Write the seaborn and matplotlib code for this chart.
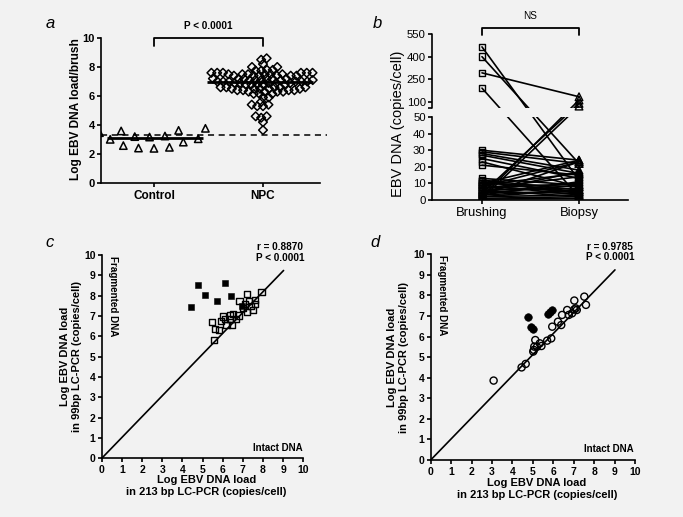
import numpy as np
import pandas as pd
import matplotlib
matplotlib.use("Agg")
import matplotlib.pyplot as plt
import matplotlib.transforms as mtransforms
from matplotlib.patches import Rectangle
import seaborn as sns

# ---------------- data ----------------
groups_a = ["Control", "NPC"]
control_vals = [3.05, 3.77, 2.82, 3.59, 2.46, 3.24, 2.39, 3.17, 2.41, 3.47, 2.58, 3.63, 3.01, 3.2]
npc_vals = ([8.6, 8.5, 8.2, 8.0, 8.0, 7.8, 7.8, 7.75, 7.75]
            + [7.6] * 6 + [7.5] * 6 + [7.4] * 6 + [7.2] * 6 + [7.1] * 5 + [7.0] * 6
            + [6.9] * 5 + [6.8] * 5 + [6.6] * 5 + [6.5] * 5 + [6.4] * 4 + [6.3] * 4
            + [6.15] * 3 + [5.9] * 2 + [5.6] + [5.4] * 2 + [5.3] * 2 + [4.6] * 2
            + [4.5] + [4.2] + [3.65])
cutoff_a = 3.33
p_text_a = "P < 0.0001"

groups_b = ["Brushing", "Biopsy"]
brushing_vals = [465, 400, 293, 192, 30, 29, 28, 27, 25, 23, 21, 13, 11, 2, 4, 1,
                 8, 10, 12, 11, 10, 9, 8, 7, 6, 6, 5, 4, 3, 3, 2, 1, 0.5, 7, 9, 3, 5, 2]
biopsy_vals = [12, 22, 135, 2, 24, 22, 18, 16, 13, 8, 15, 9, 5, 113, 91, 73,
               23, 24, 6, 4, 8, 3, 5, 10, 2, 7, 4, 9, 6, 11, 3, 2, 1, 14, 16, 23, 17, 6]
yticks_b = [0, 10, 20, 30, 40, 50, 100, 250, 400, 550]
p_text_b = "NS"

c_open_x = [5.47, 5.60, 5.57, 5.82, 5.90, 6.13, 6.19, 6.36, 6.48, 6.53, 6.66, 6.79, 6.83,
            6.99, 7.19, 7.22, 7.32, 7.39, 7.52, 7.6, 7.6, 7.93, 7.11, 6.36, 6.0]
c_open_y = [6.70, 6.37, 5.83, 6.32, 6.76, 6.86, 6.57, 7.03, 6.56, 7.11, 6.86, 7.03, 7.74,
            7.41, 8.08, 7.21, 7.74, 7.48, 7.28, 7.61, 7.8, 8.2, 7.61, 6.85, 6.98]
c_fill_x = [4.41, 4.78, 5.14, 5.73, 6.13, 6.41, 6.94]
c_fill_y = [7.43, 8.55, 8.04, 7.75, 8.63, 7.98, 7.47]
c_stats = "r = 0.8870\nP < 0.0001"

d_open_x = [3.08, 4.45, 4.65, 5.02, 5.07, 5.12, 5.34, 5.42, 5.70, 5.90, 5.95, 6.23, 6.39,
            6.43, 6.68, 6.76, 6.92, 7.03, 7.03, 7.15, 7.52, 7.6, 5.2, 5.05, 7.1]
d_open_y = [3.86, 4.5, 4.67, 5.27, 5.51, 5.83, 5.67, 5.54, 5.80, 5.91, 6.48, 6.72, 6.56,
            7.05, 7.29, 7.05, 7.13, 7.75, 7.32, 7.29, 7.94, 7.54, 5.5, 5.35, 7.37]
d_fill_x = [4.78, 4.9, 5.02, 5.76, 5.84, 5.92]
d_fill_y = [6.95, 6.45, 6.36, 7.08, 7.17, 7.29]
d_stats = "r = 0.9785\nP < 0.0001"

diag_x = [0, 9.02]
diag_y = [0, 9.24]
ticks_cd = list(range(0, 11))

# ---------------- style ----------------
BG = "#f2f2f2"
sns.set_theme(style="ticks")
plt.rcParams["font.family"] = ["Liberation Sans", "DejaVu Sans"]
plt.rcParams.update({
    "font.weight": "bold",
    "axes.labelweight": "bold",
    "axes.edgecolor": "black",
    "axes.linewidth": 1.2,
    "xtick.color": "black",
    "ytick.color": "black",
    "xtick.major.width": 1.2,
    "ytick.major.width": 1.2,
    "xtick.minor.width": 1.2,
    "ytick.minor.width": 1.2,
    "xtick.major.size": 3,
    "ytick.major.size": 3,
    "xtick.major.pad": 2,
    "ytick.major.pad": 1.5,
    "text.color": "black",
    "axes.labelcolor": "black",
})

fig = plt.figure(figsize=(6.83, 5.17), dpi=100, facecolor=BG)
ax_a = fig.add_axes([0.1479, 0.646, 0.3206, 0.2805])
ax_b = fig.add_axes([0.6325, 0.6132, 0.287, 0.321])
ax_c = fig.add_axes([0.1489, 0.1135, 0.2952, 0.3932])
ax_d = fig.add_axes([0.6306, 0.1103, 0.2991, 0.3979])
for ax in (ax_a, ax_b, ax_c, ax_d):
    ax.set_facecolor(BG)
    ax.spines["top"].set_visible(False)
    ax.spines["right"].set_visible(False)

# ---------------- panel a ----------------
df_a = pd.DataFrame({"group": ["Control"] * len(control_vals) + ["NPC"] * len(npc_vals),
                     "value": control_vals + npc_vals})
# (group, marker, swarm layout size, drawn marker size, horizontal stretch)
swarm_specs = [("Control", "^", 8.5, 5.3, 1.25), ("NPC", "D", 3.3, 4.4, 1.2)]
for grp, mk, layout_size, draw_size, stretch in swarm_specs:
    n_before = len(ax_a.collections)
    sns.swarmplot(data=df_a[df_a.group == grp], x="group", y="value", order=groups_a,
                  marker=mk, size=layout_size, color="black", linewidth=0, ax=ax_a,
                  warn_thresh=1.0)
    ax_a.set_xlim(-0.486, 1.523)
    ax_a.set_ylim(0, 10)
    fig.canvas.draw()
    center = groups_a.index(grp)
    for coll in ax_a.collections[n_before:]:
        if "draw" in coll.__dict__:
            del coll.__dict__["draw"]   # freeze seaborn's computed swarm layout
        offs = np.array(coll.get_offsets())
        if len(offs):
            offs[:, 0] = center + (offs[:, 0] - center) * stretch
            coll.set_offsets(offs)
        coll.set_sizes([draw_size ** 2])
        coll.set_facecolor("none")
        coll.set_edgecolor("black")
        coll.set_linewidth(1.1)

half_w = [(-0.43, 0.45), (-0.51, 0.46)]
for i, vals in enumerate([control_vals, npc_vals]):
    ax_a.hlines(np.median(vals), i + half_w[i][0], i + half_w[i][1], color="black", lw=2.0, zorder=4)
ax_a.axhline(cutoff_a, xmin=0, xmax=1.03, color="black", lw=1.1, ls=(0, (4, 3)), clip_on=False)
ax_a.set_xlim(-0.486, 1.523)
ax_a.set_ylim(0, 10)
ax_a.set_yticks([0, 2, 4, 6, 8, 10])
ax_a.tick_params(axis="y", labelsize=8)
ax_a.tick_params(axis="x", labelsize=8.5)
ax_a.set_xlabel("")
ax_a.set_ylabel("Log EBV DNA load/brush", fontsize=8.6)
ax_a.yaxis.set_label_coords(-0.087, 0.51)
tr_a = mtransforms.blended_transform_factory(ax_a.transData, ax_a.transAxes)
ax_a.plot([0, 0, 1, 1], [0.945, 1.0, 1.0, 0.945], color="black", lw=1.3, transform=tr_a, clip_on=False)
ax_a.text(0.5, 1.083, p_text_a, transform=tr_a, ha="center", va="center", fontsize=7.2, fontweight="bold")

# ---------------- panel b ----------------
n_pairs = len(brushing_vals)
df_b = pd.DataFrame({
    "pair": list(range(n_pairs)) * 2,
    "pos": [0] * n_pairs + [1] * n_pairs,
    "value": brushing_vals + biopsy_vals,
})
sns.lineplot(data=df_b, x="pos", y="value", units="pair", estimator=None, sort=False,
             color="black", lw=1.2, ax=ax_b, legend=False)
sns.scatterplot(data=df_b[df_b.pos == 0], x="pos", y="value", marker="s", s=22, color="black",
                ax=ax_b, zorder=3, legend=False)
sns.scatterplot(data=df_b[df_b.pos == 1], x="pos", y="value", marker="^", s=30, color="black",
                ax=ax_b, zorder=3, legend=False)
for coll in ax_b.collections:
    coll.set_facecolor("none")
    coll.set_edgecolor("black")
    coll.set_linewidth(1.0)


def fwd(v):
    v = np.asarray(v, dtype=float)
    return np.where(v <= 50, v * 1.66, np.where(v <= 60, 83 + (v - 50) * 0.9, 92 + (v - 60) * 0.1513))


def inv(p):
    p = np.asarray(p, dtype=float)
    return np.where(p <= 83, p / 1.66, np.where(p <= 92, 50 + (p - 83) / 0.9, 60 + (p - 92) / 0.1513))


ax_b.set_yscale("function", functions=(fwd, inv))
ax_b.set_ylim(0, 550)
ax_b.set_xlim(-0.515, 1.505)
ax_b.set_yticks(yticks_b)
ax_b.set_yticklabels([str(t) for t in yticks_b])
ax_b.set_yticks([60], minor=True)
ax_b.set_yticklabels([""], minor=True)
ax_b.tick_params(axis="y", which="minor", length=3, width=1.2)
ax_b.set_xticks([0, 1])
ax_b.set_xticklabels(groups_b)
ax_b.tick_params(axis="y", labelsize=8.2)
ax_b.tick_params(axis="x", labelsize=9.4)
for lbl in ax_b.get_xticklabels() + ax_b.get_yticklabels():
    lbl.set_fontweight("normal")
ax_b.spines["left"].set_bounds(0, 50)
tr_by = mtransforms.blended_transform_factory(ax_b.transAxes, ax_b.transData)
ax_b.plot([0, 0], [60, 550], color="black", lw=1.2, transform=tr_by, clip_on=False, zorder=3)
ax_b.add_patch(Rectangle((0.003, 50), 1.0, 10, transform=tr_by, facecolor=BG, edgecolor="none",
                         zorder=2.5, clip_on=False))
ax_b.set_xlabel("")
ax_b.set_ylabel("EBV DNA (copies/cell)", fontsize=10.5, fontweight="normal")
ax_b.yaxis.set_label_coords(-0.138, 0.46)
tr_b = mtransforms.blended_transform_factory(ax_b.transData, ax_b.transAxes)
ax_b.plot([0, 0, 1, 1], [0.994, 1.036, 1.036, 0.994], color="black", lw=1.3, transform=tr_b, clip_on=False)
ax_b.text(0.5, 1.108, p_text_b, transform=tr_b, ha="center", va="center", fontsize=7.2, fontweight="normal")


# ---------------- panels c, d ----------------
def scatter_panel(ax, ox, oy, fx, fy, marker, s_open, s_fill, stats, stats_xy, frag_xy, intact_xy):
    ax.plot(diag_x, diag_y, color="black", lw=1.2, zorder=2)
    sns.scatterplot(x=ox, y=oy, marker=marker, s=s_open, color="black", ax=ax, zorder=3, legend=False)
    c1 = ax.collections[-1]
    c1.set_facecolor("none")
    c1.set_edgecolor("black")
    c1.set_linewidth(1.0)
    sns.scatterplot(x=fx, y=fy, marker=marker, s=s_fill, color="black", ax=ax, zorder=3, legend=False)
    c2 = ax.collections[-1]
    c2.set_facecolor("black")
    c2.set_edgecolor("black")
    ax.set_xlim(0, 10)
    ax.set_ylim(0, 10)
    ax.set_xticks(ticks_cd)
    ax.set_yticks(ticks_cd)
    ax.tick_params(labelsize=7.5)
    ax.set_xlabel("Log EBV DNA load\nin 213 bp LC-PCR (copies/cell)", fontsize=8, linespacing=1.3)
    ax.set_ylabel("Log EBV DNA load\nin 99bp LC-PCR (copies/cell)", fontsize=8, linespacing=1.3)
    ax.text(stats_xy[0], stats_xy[1], stats, ha="center", va="center", fontsize=7.2,
            fontweight="bold", linespacing=1.1, clip_on=False)
    ax.text(frag_xy[0], frag_xy[1], "Fragmented DNA", rotation=270, ha="center", va="center",
            fontsize=7.1, fontweight="bold")
    ax.text(intact_xy[0], intact_xy[1], "Intact DNA", ha="center", va="center", fontsize=7,
            fontweight="bold")


scatter_panel(ax_c, c_open_x, c_open_y, c_fill_x, c_fill_y, "s", 20, 22, c_stats,
              (8.84, 10.14), (0.56, 8.0), (8.75, 0.51))
ax_c.yaxis.set_label_coords(-0.098, 0.5)
ax_c.xaxis.set_label_coords(0.52, -0.082)
scatter_panel(ax_d, d_open_x, d_open_y, d_fill_x, d_fill_y, "o", 26, 30, d_stats,
              (8.78, 10.11), (0.55, 8.02), (8.73, 0.53))
ax_d.yaxis.set_label_coords(-0.106, 0.5)
ax_d.xaxis.set_label_coords(0.52, -0.0875)

# panel letters
for letter, (px, py) in zip("abcd", [(50, 24), (377, 24), (50, 243), (375, 243)]):
    fig.text(px / 683, 1 - py / 517, letter, ha="center", va="center", fontsize=12,
             fontstyle="italic", fontweight="normal")

fig.savefig("out.png", dpi=100, facecolor=BG)
